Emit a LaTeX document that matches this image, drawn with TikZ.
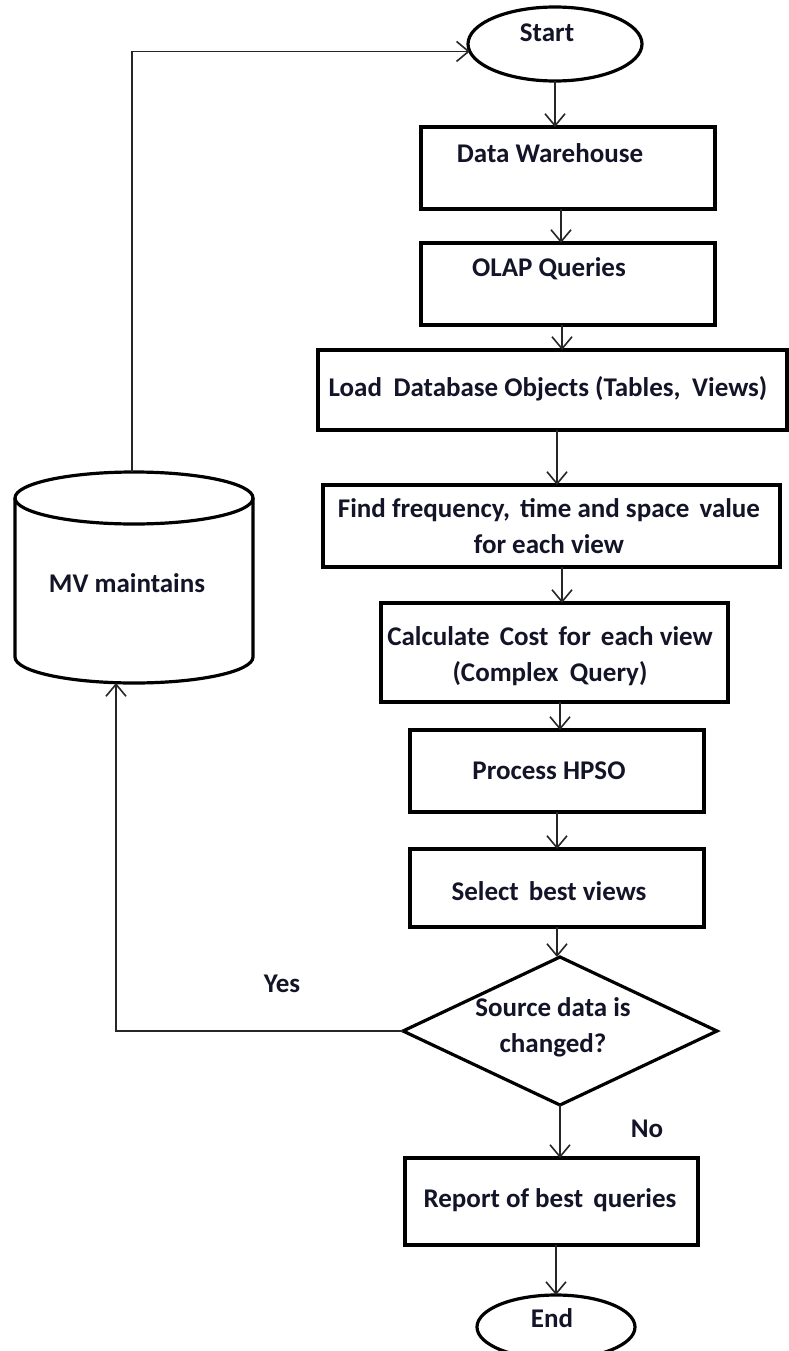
\documentclass[tikz,border=0pt]{standalone}
\usepackage{fontspec}
\setmainfont{Carlito}
\usetikzlibrary{arrows.meta,shapes.geometric,calc}
\definecolor{ink}{RGB}{20,20,40}
\begin{document}
\begin{tikzpicture}[x=1pt,y=-1pt,
  shp/.style={draw=black, line width=3.2pt, inner sep=0pt, outer sep=0pt},
  boxnode/.style={shp, rectangle},
  txt/.style={font=\fontsize{27}{36}\selectfont\bfseries, text=ink, align=center, inner sep=0pt},
  arr/.style={draw=black!85, line width=1.6pt, -{Straight Barb[length=12pt,width=20pt]}},
  conn/.style={draw=black!85, line width=1.6pt}
]
\fill[white] (0,0) rectangle (788,1351);
\useasboundingbox (0,0) rectangle (788,1351);

% terminals
\node[shp, ellipse, minimum width=174pt, minimum height=74pt,
      label={[txt, xshift=-8pt, yshift=11pt]center:Start}] (start) at (555,44) {};
\node[shp, ellipse, minimum width=158pt, minimum height=64pt,
      label={[txt, xshift=-4pt, yshift=9pt]center:End}] (end) at (556,1327) {};

% process boxes
\node[boxnode, minimum width=294pt, minimum height=82pt,
      label={[txt, xshift=-18pt, yshift=15pt]center:Data Warehouse}] (dw) at (568,168) {};
\node[boxnode, minimum width=294pt, minimum height=82pt,
      label={[txt, xshift=-19pt, yshift=15pt]center:OLAP Queries}] (olap) at (568,284) {};
\node[boxnode, minimum width=469pt, minimum height=80pt,
      label={[txt, xshift=-4.5pt, yshift=1pt]center:Load\hspace{0.2em} Database Objects (Tables,\hspace{0.2em} Views)}] (load) at (552.5,390) {};
\node[boxnode, minimum width=457pt, minimum height=82pt,
      label={[txt, xshift=-2.5pt]center:Find frequency,\hspace{0.15em} time and space\hspace{0.15em} value\\for each view}] (find) at (551.5,526) {};
\node[boxnode, minimum width=347pt, minimum height=99pt,
      label={[txt, xshift=-4.5pt, yshift=-4pt]center:Calculate\hspace{0.15em} Cost\hspace{0.15em} for\hspace{0.15em} each view\\(Complex\hspace{0.2em} Query)}] (calc) at (554.5,652.5) {};
\node[boxnode, minimum width=294pt, minimum height=82pt,
      label={[txt, xshift=-8pt]center:Process HPSO}] (proc) at (557,771) {};
\node[boxnode, minimum width=294pt, minimum height=78pt,
      label={[txt, xshift=-8pt, yshift=-3pt]center:Select\hspace{0.15em} best views}] (sel) at (557,888) {};
\node[shp, diamond, minimum width=314pt, minimum height=148pt,
      label={[txt, xshift=-7pt, yshift=4pt]center:Source data is\\changed?}] (dec) at (560,1031) {};
\node[boxnode, minimum width=293pt, minimum height=87pt,
      label={[txt, xshift=-1.5pt, yshift=1pt]center:Report of best\hspace{0.15em} queries}] (rep) at (551.5,1201.5) {};

% cylinder store
\node[minimum width=238pt, minimum height=211pt, inner sep=0pt,
      label={[txt, xshift=-7pt, yshift=-6pt]center:MV maintains}] (mv) at (134,577.5) {};
\draw[shp] (134,498) ellipse [x radius=119pt, y radius=26pt];
\draw[shp] (15,498) -- (15,657) arc [start angle=180, end angle=360, x radius=119pt, y radius=26pt] -- (253,498);
\coordinate (mvtop) at (132,472);
\coordinate (mvbot) at (116,683);

% labels
\node[txt] (yes) at (282,984) {Yes};
\node[txt] (no) at (647,1129) {No};

% connectors
\draw[arr] (start.south) -- (start.south |- dw.north);
\draw[arr] ([xshift=-7pt]dw.south) -- ([xshift=-7pt]dw.south |- olap.north);
\draw[arr] ([xshift=-6pt]olap.south) -- ([xshift=-6pt]olap.south |- load.north);
\draw[arr] ([xshift=4.5pt]load.south) -- ([xshift=4.5pt]load.south |- find.north);
\draw[arr] ([xshift=10.5pt]find.south) -- ([xshift=10.5pt]find.south |- calc.north);
\draw[arr] ([xshift=5.5pt]calc.south) -- ([xshift=5.5pt]calc.south |- proc.north);
\draw[arr] (proc.south) -- (sel.north);
\draw[arr] (sel.south) -- (sel.south |- dec.north);
\draw[arr] (dec.south) -- (dec.south |- rep.north);
\draw[arr] (end.north |- rep.south) -- (end.north);
\draw[arr] (dec.west) -| (mvbot);
\draw[arr] (mvtop) |- (start.185);
\end{tikzpicture}
\end{document}
